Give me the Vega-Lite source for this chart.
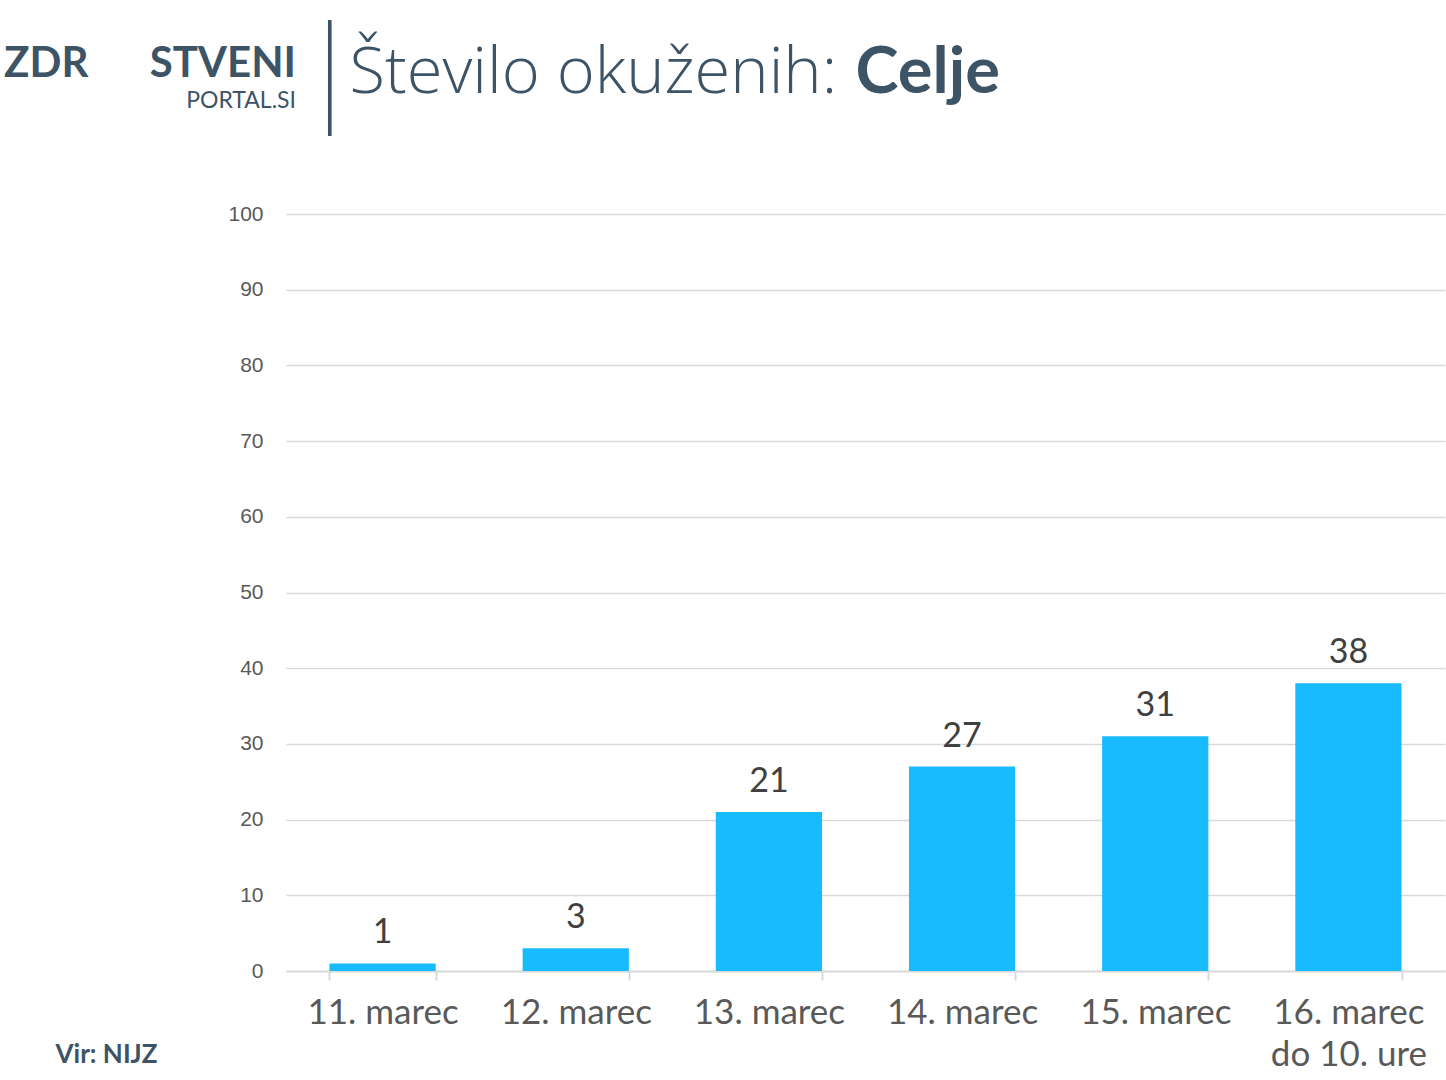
{
  "$schema": "https://vega.github.io/schema/vega-lite/v6.json",
  "width": 1159,
  "height": 757,
  "autosize": {"type": "none"},
  "padding": {"left": 286, "top": 214, "right": 1, "bottom": 109},
  "background": "white",
  "config": {"view": {"stroke": null}},
  "title": {
    "text": "ZDR\u00a0\u00a0\u00a0\u00a0\u00a0\u00a0STVENI",
    "subtitle": "PORTAL.SI",
    "anchor": "end",
    "frame": "group",
    "dx": -1149,
    "dy": 111,
    "font": "Lato",
    "fontSize": 42,
    "fontWeight": "bold",
    "color": "#3d5366",
    "subtitleFont": "Lato",
    "subtitleFontSize": 23,
    "subtitleColor": "#3d5366",
    "subtitlePadding": 4
  },
  "data": {
    "values": [
      {"dan": "11. marec", "n": 1},
      {"dan": "12. marec", "n": 3},
      {"dan": "13. marec", "n": 21},
      {"dan": "14. marec", "n": 27},
      {"dan": "15. marec", "n": 31},
      {"dan": "16. marec do 10. ure", "n": 38}
    ]
  },
  "layer": [
    {
      "mark": {"type": "bar", "color": "#18BBFD"},
      "encoding": {
        "x": {
          "field": "dan", "type": "nominal", "sort": null,
          "scale": {"paddingInner": 0.45, "paddingOuter": 0.225},
          "axis": {
            "orient": "bottom", "labelAngle": 0,
            "labelFont": "Lato", "labelFontSize": 35, "labelColor": "#595959",
            "labelPadding": 15, "labelLineHeight": 42,
            "labelExpr": "datum.value == '16. marec do 10. ure' ? ['16. marec', 'do 10. ure'] : datum.label",
            "tickBand": "extent", "tickSize": 9, "tickColor": "#d9d9d9", "tickWidth": 2,
            "domainColor": "#d9d9d9", "domainWidth": 2,
            "title": "Vir: NIJZ", "titleX": -231, "titleY": 91, "titleAngle": 0,
            "titleAlign": "left", "titleBaseline": "alphabetic",
            "titleFont": "Lato", "titleFontSize": 26, "titleFontWeight": "bold", "titleColor": "#3d5366"
          }
        },
        "y": {
          "field": "n", "type": "quantitative",
          "scale": {"domain": [0, 100]},
          "axis": {
            "orient": "left", "values": [0, 10, 20, 30, 40, 50, 60, 70, 80, 90, 100],
            "domain": false, "ticks": false, "tickSize": 0, "labelPadding": 23,
            "labelFont": "Liberation Sans", "labelFontSize": 21, "labelColor": "#595959",
            "gridColor": "#d9d9d9", "gridWidth": 1.5,
            "title": "Število okuženih:", "titleX": 63, "titleY": -122, "titleAngle": 0,
            "titleAlign": "left", "titleBaseline": "alphabetic",
            "titleFont": "Open Sans", "titleFontSize": 65, "titleFontWeight": 300, "titleColor": "#3d5366"
          }
        }
      }
    },
    {
      "mark": {"type": "text", "baseline": "alphabetic", "dy": -20, "font": "Lato", "fontSize": 34, "color": "#404040"},
      "encoding": {
        "x": {
          "field": "dan", "type": "nominal", "sort": null,
          "axis": {
            "orient": "top", "labels": false, "ticks": false, "domain": false, "grid": false,
            "title": "|", "titleX": 43, "titleY": -97, "titleAngle": 0,
            "titleAlign": "center", "titleBaseline": "alphabetic",
            "titleFont": "Roboto", "titleFontSize": 138, "titleFontWeight": 100, "titleColor": "#3d5366"
          }
        },
        "y": {
          "field": "n", "type": "quantitative",
          "axis": {
            "orient": "right", "labels": false, "ticks": false, "domain": false, "grid": false,
            "title": "Celje", "titleX": -590, "titleY": -122, "titleAngle": 0,
            "titleAlign": "left", "titleBaseline": "alphabetic",
            "titleFont": "Lato", "titleFontSize": 65, "titleFontWeight": "bold", "titleColor": "#3d5366"
          }
        },
        "text": {"field": "n", "type": "quantitative"}
      }
    }
  ],
  "resolve": {"axis": {"x": "independent", "y": "independent"}}
}
